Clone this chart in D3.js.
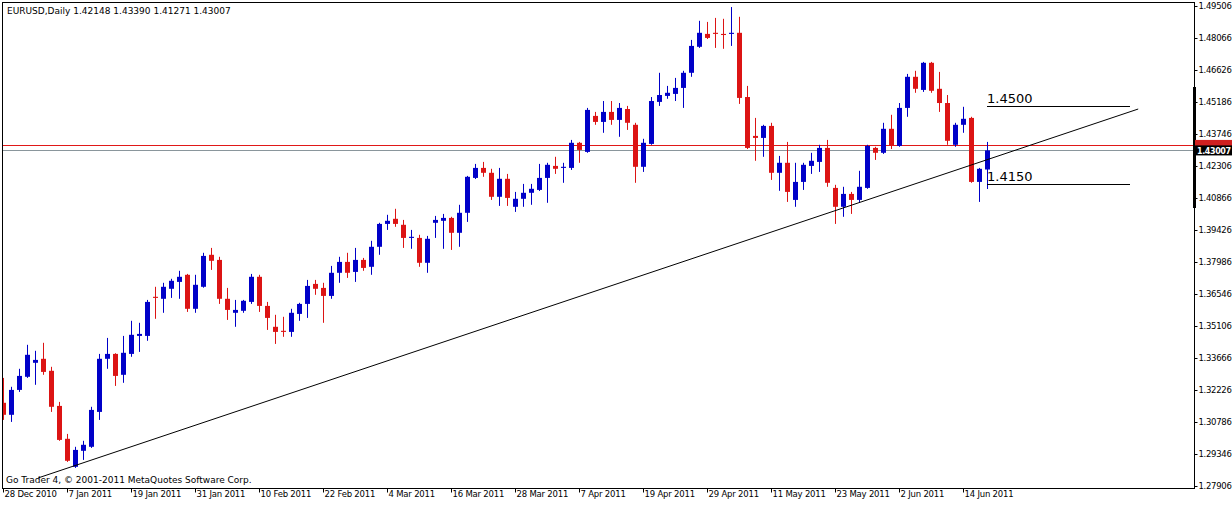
<!DOCTYPE html>
<html><head><meta charset="utf-8">
<script src="https://cdn.jsdelivr.net/npm/d3@7"></script>
<style>body{margin:0;background:#fff}svg{display:block}text{font-family:Tahoma,"DejaVu Sans",sans-serif}</style>
</head><body>
<svg id="chart" width="1232" height="505"></svg>
<script>
// EURUSD daily, 28 Dec 2010 .. 17 Jun 2011, [open, high, low, close]
var ohlc = [
[1.3165,1.3277,1.3088,1.3111],[1.3111,1.3237,1.3079,1.3223],[1.3223,1.3318,1.3214,1.3286],[1.3282,1.3426,1.3277,1.3381],
[1.3345,1.3399,1.3246,1.3358],[1.3363,1.3435,1.3291,1.3304],[1.3309,1.3327,1.3124,1.3147],[1.3151,1.3169,1.2994,1.2998],
[1.3003,1.3025,1.2899,1.2904],[1.2877,1.2967,1.2872,1.2953],[1.2949,1.2994,1.2908,1.2976],[1.2967,1.3147,1.2962,1.3133],
[1.3124,1.3385,1.3088,1.3363],[1.3363,1.3457,1.3318,1.3385],[1.3385,1.3388,1.3241,1.3286],[1.3291,1.3466,1.3255,1.3390],
[1.3385,1.3534,1.3372,1.3471],[1.3466,1.3525,1.3394,1.3475],[1.3466,1.3628,1.3444,1.3619],[1.3642,1.3687,1.3543,1.3637],
[1.3633,1.3705,1.3570,1.3687],[1.3678,1.3723,1.3637,1.3714],[1.3709,1.3759,1.3633,1.3732],[1.3741,1.3745,1.3574,1.3588],
[1.3588,1.3741,1.3570,1.3696],[1.3687,1.3840,1.3683,1.3826],[1.3831,1.3862,1.3763,1.3804],[1.3808,1.3822,1.3610,1.3633],
[1.3633,1.3682,1.3538,1.3583],[1.3570,1.3628,1.3507,1.3583],[1.3579,1.3628,1.3570,1.3624],[1.3619,1.3745,1.3610,1.3732],
[1.3732,1.3741,1.3574,1.3601],[1.3601,1.3619,1.3493,1.3547],[1.3507,1.3561,1.3430,1.3484],[1.3489,1.3552,1.3462,1.3484],
[1.3484,1.3588,1.3462,1.3570],[1.3565,1.3615,1.3534,1.3610],[1.3610,1.3718,1.3547,1.3691],[1.3700,1.3718,1.3651,1.3678],
[1.3682,1.3705,1.3525,1.3646],[1.3646,1.3781,1.3633,1.3750],[1.3750,1.3822,1.3705,1.3799],[1.3799,1.3840,1.3727,1.3750],
[1.3754,1.3862,1.3709,1.3808],[1.3808,1.3817,1.3759,1.3772],[1.3777,1.3894,1.3741,1.3867],[1.3867,1.3975,1.3831,1.3970],
[1.3970,1.4011,1.3943,1.3984],[1.3993,1.4038,1.3957,1.3970],[1.3966,1.3988,1.3862,1.3907],[1.3907,1.3943,1.3858,1.3912],
[1.3907,1.3921,1.3777,1.3795],[1.3795,1.3916,1.3750,1.3903],[1.3975,1.4006,1.3907,1.3988],[1.3984,1.4015,1.3858,1.3997],
[1.3997,1.4002,1.3853,1.3930],[1.3930,1.4056,1.3867,1.4020],[1.4020,1.4186,1.3979,1.4182],[1.4177,1.4240,1.4172,1.4222],
[1.4222,1.4249,1.4182,1.4200],[1.4200,1.4218,1.4078,1.4092],[1.4092,1.4222,1.4051,1.4173],[1.4173,1.4195,1.4051,1.4087],
[1.4047,1.4114,1.4024,1.4083],[1.4083,1.4150,1.4047,1.4110],[1.4110,1.4150,1.4056,1.4128],[1.4123,1.4240,1.4118,1.4177],
[1.4177,1.4245,1.4065,1.4236],[1.4231,1.4272,1.4195,1.4218],[1.4222,1.4245,1.4155,1.4227],[1.4222,1.4348,1.4213,1.4335],
[1.4335,1.4339,1.4245,1.4303],[1.4294,1.4492,1.4290,1.4483],[1.4456,1.4474,1.4416,1.4429],[1.4429,1.4523,1.4380,1.4474],
[1.4474,1.4523,1.4416,1.4438],[1.4438,1.4514,1.4362,1.4492],[1.4487,1.4501,1.4393,1.4425],[1.4416,1.4425,1.4155,1.4227],
[1.4227,1.4353,1.4204,1.4335],[1.4330,1.4541,1.4326,1.4523],[1.4519,1.4650,1.4501,1.4550],[1.4546,1.4591,1.4533,1.4560],
[1.4555,1.4627,1.4523,1.4582],[1.4582,1.4659,1.4492,1.4650],[1.4650,1.4798,1.4632,1.4771],[1.4767,1.4884,1.4762,1.4830],
[1.4825,1.4879,1.4802,1.4807],[1.4830,1.4897,1.4762,1.4825],[1.4825,1.4893,1.4758,1.4820],[1.4825,1.4946,1.4771,1.4830],
[1.4830,1.4902,1.4510,1.4537],[1.4541,1.4591,1.4307,1.4312],[1.4366,1.4447,1.4254,1.4357],[1.4357,1.4416,1.4272,1.4411],
[1.4411,1.4425,1.4168,1.4200],[1.4200,1.4276,1.4119,1.4245],[1.4245,1.4339,1.4069,1.4114],[1.4078,1.4245,1.4047,1.4159],
[1.4159,1.4245,1.4123,1.4236],[1.4231,1.4290,1.4195,1.4254],[1.4249,1.4326,1.4204,1.4312],[1.4312,1.4348,1.4137,1.4155],
[1.4132,1.4146,1.3970,1.4047],[1.4047,1.4137,1.4002,1.4105],[1.4105,1.4114,1.4015,1.4078],[1.4078,1.4209,1.4065,1.4137],
[1.4132,1.4326,1.4128,1.4321],[1.4312,1.4317,1.4258,1.4290],[1.4290,1.4425,1.4285,1.4398],[1.4398,1.4461,1.4307,1.4321],
[1.4321,1.4514,1.4317,1.4492],[1.4492,1.4645,1.4452,1.4632],[1.4632,1.4659,1.4560,1.4578],[1.4573,1.4699,1.4564,1.4695],
[1.4695,1.4699,1.4560,1.4569],[1.4578,1.4654,1.4474,1.4514],[1.4514,1.4550,1.4326,1.4344],[1.4326,1.4425,1.4317,1.4416],
[1.4416,1.4497,1.4380,1.4443],[1.4447,1.4452,1.4155,1.4159],[1.4159,1.4222,1.4069,1.4218],[1.42148,1.43390,1.41271,1.43007]
];
var dateLabels = ['28 Dec 2010','7 Jan 2011','19 Jan 2011','31 Jan 2011','10 Feb 2011','22 Feb 2011','4 Mar 2011','16 Mar 2011',
  '28 Mar 2011','7 Apr 2011','19 Apr 2011','29 Apr 2011','11 May 2011','23 May 2011','2 Jun 2011','14 Jun 2011'];
var priceTicks = [1.49506,1.48066,1.46626,1.45186,1.43746,1.42306,1.40866,1.39426,1.37986,1.36546,1.35106,1.33666,1.32226,1.30786,1.29346,1.27906];
var bidPrice = 1.43007;
var redLevel = 1.43254;
var levels = [1.4500, 1.4150];
// trendline anchors: [bar index, price]
var trend = [[4.4, 1.2827], [141.9, 1.4487]];

var svg = d3.select('#chart');
var pLeft = 2, pRight = 1194, pTop = 2, pBottom = 488;

var x = d3.scaleLinear().domain([0, 123]).range([3, 987]);
var y = d3.scaleLinear().domain([1.27906, 1.49506]).range([486, 6]);
var blue = '#0000c8', red = '#dc1414';

svg.append('defs').append('clipPath').attr('id', 'clip')
  .append('rect').attr('x', pLeft + 1).attr('y', pTop + 1).attr('width', pRight - pLeft - 1).attr('height', pBottom - pTop - 1);

var plot = svg.append('g').attr('clip-path', 'url(#clip)');

// price lines
plot.append('line').attr('x1', pLeft).attr('x2', pRight)
  .attr('y1', Math.round(y(redLevel)) + 0.5).attr('y2', Math.round(y(redLevel)) + 0.5).attr('stroke', '#e01818');
plot.append('line').attr('x1', pLeft).attr('x2', pRight)
  .attr('y1', Math.round(y(bidPrice)) + 0.5).attr('y2', Math.round(y(bidPrice)) + 0.5).attr('stroke', '#8a969c');

var c = plot.selectAll('g.c').data(ohlc).enter().append('g').attr('class', 'c');
c.append('line')
  .attr('x1', function(d, i) { return Math.round(x(i)) + 0.5; })
  .attr('x2', function(d, i) { return Math.round(x(i)) + 0.5; })
  .attr('y1', function(d) { return y(d[1]); })
  .attr('y2', function(d) { return y(d[2]); })
  .attr('stroke', function(d) { return d[3] >= d[0] ? blue : red; });
c.append('rect')
  .attr('x', function(d, i) { return Math.round(x(i)) - 2; })
  .attr('width', 5)
  .attr('y', function(d) { return y(Math.max(d[0], d[3])); })
  .attr('height', function(d) { return Math.max(1, Math.abs(y(d[0]) - y(d[3]))); })
  .attr('fill', function(d) { return d[3] >= d[0] ? blue : red; });

// trendline
plot.append('line')
  .attr('x1', x(trend[0][0])).attr('y1', y(trend[0][1]))
  .attr('x2', x(trend[1][0])).attr('y2', y(trend[1][1]))
  .attr('stroke', '#000').attr('stroke-width', 1);

// horizontal levels
levels.forEach(function(v) {
  var yy = Math.round(y(v)) + 0.5;
  plot.append('line').attr('x1', x(123)).attr('x2', 1130).attr('y1', yy).attr('y2', yy).attr('stroke', '#000');
  plot.append('text').attr('x', x(123)).attr('y', yy - 4).attr('font-size', 13)
    .attr('font-family', '"DejaVu Serif",serif').text(v.toFixed(4));
});

// frame
svg.append('rect').attr('x', pLeft + 0.5).attr('y', pTop + 0.5).attr('width', pRight - pLeft).attr('height', pBottom - pTop)
  .attr('fill', 'none').attr('stroke', '#000');

// right axis
var yAxis = d3.axisRight(y).tickValues(priceTicks).tickSize(3).tickFormat(d3.format('.5f'));
var ya = svg.append('g').attr('transform', 'translate(' + (pRight + 0.5) + ',0)').call(yAxis);
ya.select('.domain').remove();
ya.selectAll('text').attr('font-size', 8.5).attr('fill', '#000').attr('x', 4).attr('letter-spacing', -0.3);
svg.append('line').attr('x1', pRight + 0.5).attr('x2', pRight + 0.5).attr('y1', 87).attr('y2', 208)
  .attr('stroke', '#000').attr('stroke-width', 3);
// price labels
svg.append('rect').attr('x', pRight + 1).attr('y', y(redLevel) - 5).attr('width', 40).attr('height', 9).attr('fill', '#d02020');
svg.append('rect').attr('x', pRight + 1).attr('y', y(bidPrice) - 5).attr('width', 40).attr('height', 10).attr('fill', '#000');
svg.append('text').attr('x', pRight + 3).attr('y', y(bidPrice) + 3.5).attr('font-size', 8).attr('font-weight', 'bold')
  .attr('letter-spacing', -0.4).attr('fill', '#fff').text(bidPrice.toFixed(5));

// bottom axis
var xAxis = d3.axisBottom(x).tickValues(d3.range(0, dateLabels.length * 8, 8)).tickSize(4)
  .tickFormat(function(d) { return dateLabels[d / 8]; });
var xa = svg.append('g').attr('transform', 'translate(0,' + (pBottom + 0.5) + ')').call(xAxis);
xa.select('.domain').remove();
xa.selectAll('text').attr('font-size', 8.5).attr('letter-spacing', -0.2).attr('fill', '#000')
  .attr('text-anchor', 'start').attr('dx', 1).attr('dy', 1);

// texts
svg.append('text').attr('x', 7).attr('y', 14).attr('font-size', 9).text('EURUSD,Daily  1.42148 1.43390 1.41271 1.43007');
svg.append('text').attr('x', 6).attr('y', 483).attr('font-size', 9).text('Go Trader 4, \u00a9 2001-2011 MetaQuotes Software Corp.');
</script>
</body></html>
